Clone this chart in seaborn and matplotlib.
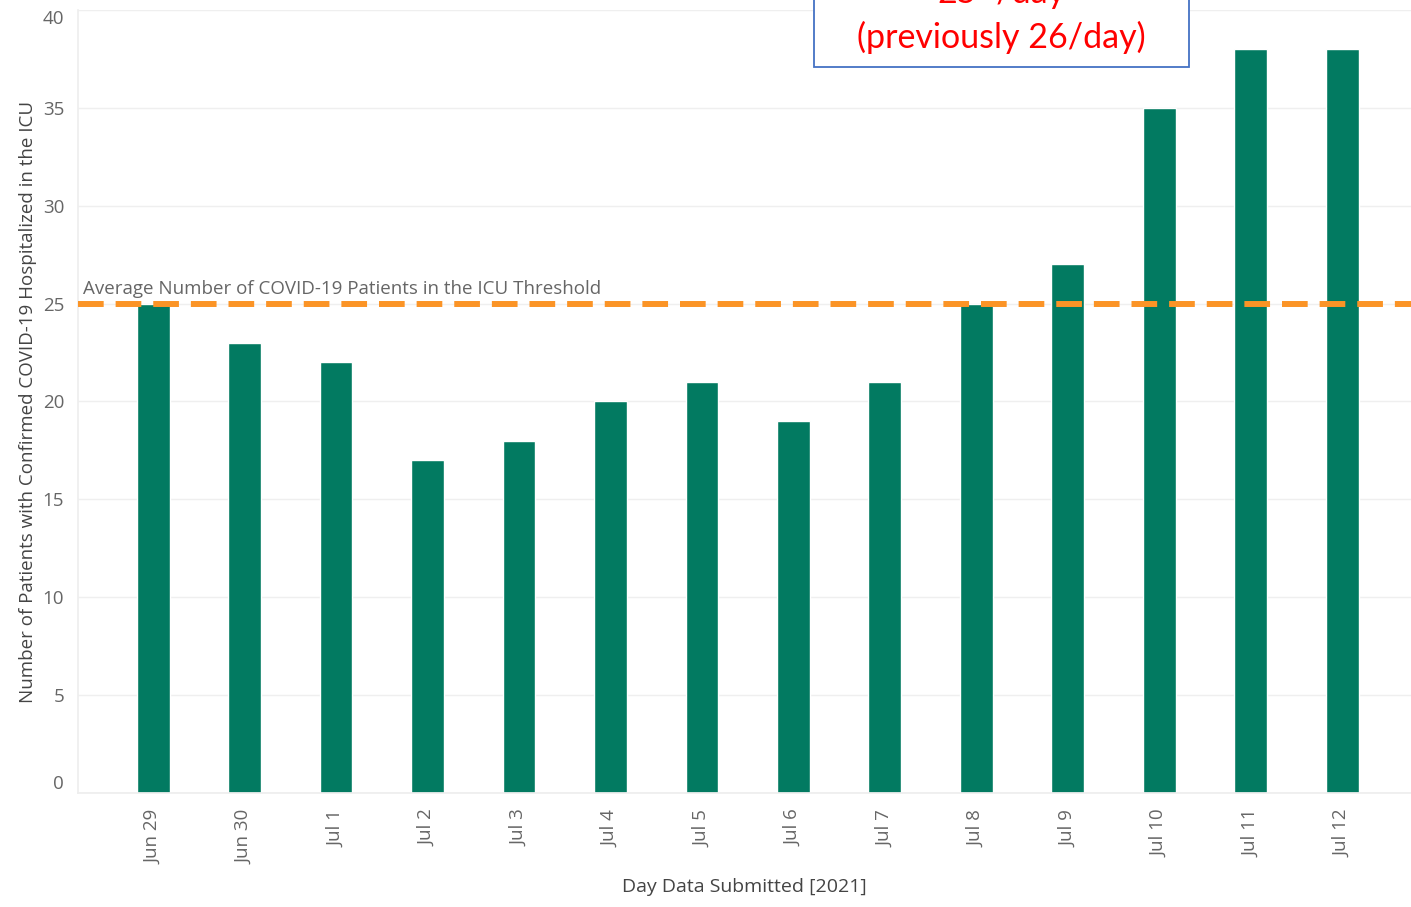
import matplotlib
matplotlib.use("Agg")
import matplotlib.pyplot as plt
from matplotlib.patches import Rectangle
import seaborn as sns
import pandas as pd

# --- data ---
DAYS = ["Jun 29", "Jun 30", "Jul 1", "Jul 2", "Jul 3", "Jul 4", "Jul 5",
        "Jul 6", "Jul 7", "Jul 8", "Jul 9", "Jul 10", "Jul 11", "Jul 12"]
ICU_PATIENTS = [25, 23, 22, 17, 18, 20, 21, 19, 21, 25, 27, 35, 38, 38]
THRESHOLD = 25
Y_TICKS = [0, 5, 10, 15, 20, 25, 30, 35, 40]

BAR_COLOR = "#027A61"
LINE_COLOR = "#FB9426"
GREY = "#666666"

sns.set_theme(style="white")
plt.rcParams["font.family"] = ["Open Sans", "DejaVu Sans"]

df = pd.DataFrame({"day": DAYS, "patients": ICU_PATIENTS})

fig = plt.figure(figsize=(14.11, 9.07), dpi=100)
ax = fig.add_axes([0.0553, 0.1257, 0.9447, 0.8633])

sns.barplot(data=df, x="day", y="patients", color=BAR_COLOR, width=0.36,
            saturation=1, ax=ax, zorder=2)

ax.set_xlim(-0.82, 13.75)
ax.set_ylim(0, 40)
ax.set_yticks(Y_TICKS)
ax.yaxis.grid(True, color="#efefef", linewidth=1, zorder=0)
ax.set_axisbelow(True)

for side in ["top", "right"]:
    ax.spines[side].set_visible(False)
ax.spines["left"].set_color("#eeeeee")
ax.spines["bottom"].set_color("#eeeeee")

ax.tick_params(axis="y", length=0, labelsize=13.5, labelcolor=GREY, pad=10)
ax.tick_params(axis="x", length=6, color="#eeeeee", labelsize=13.5,
               labelcolor=GREY, rotation=90, pad=6)
ylabels = ax.get_yticklabels()
ylabels[0].set_verticalalignment("bottom")
ylabels[-1].set_verticalalignment("top")

ax.set_xlabel("Day Data Submitted [2021]", fontsize=14, color="#444444", labelpad=10)
ax.set_ylabel("Number of Patients with Confirmed COVID-19 Hospitalized in the ICU",
              fontsize=13.5, color="#444444", labelpad=4)

# threshold reference line
ax.axhline(THRESHOLD, color=LINE_COLOR, linewidth=4.3, linestyle=(0, (4.3, 2.0)), zorder=3)
ax.text(-0.77, THRESHOLD + 0.3, "Average Number of COVID-19 Patients in the ICU Threshold",
        fontsize=13.5, color=GREY, ha="left", va="bottom", zorder=4)

# callout box at the top (cut by the top edge, as in the reference)
fig.add_artist(Rectangle((814 / 1411, 1 - 67 / 907), 375 / 1411, 0.2,
                         transform=fig.transFigure, facecolor="white",
                         edgecolor="#4472C4", linewidth=1.3, zorder=5))
fig.text(1001 / 1411, 1 - 48 / 907, "(previously 26/day)", fontsize=24.5,
         color="#FF0000", family=["Lato", "DejaVu Sans"], ha="center",
         va="baseline", zorder=6)
fig.text(1001 / 1411, 1 - 3 / 907, "25+/day", fontsize=24.5,
         color="#FF0000", family=["Lato", "DejaVu Sans"], ha="center",
         va="baseline", zorder=6)

fig.savefig("out.png", dpi=100)
